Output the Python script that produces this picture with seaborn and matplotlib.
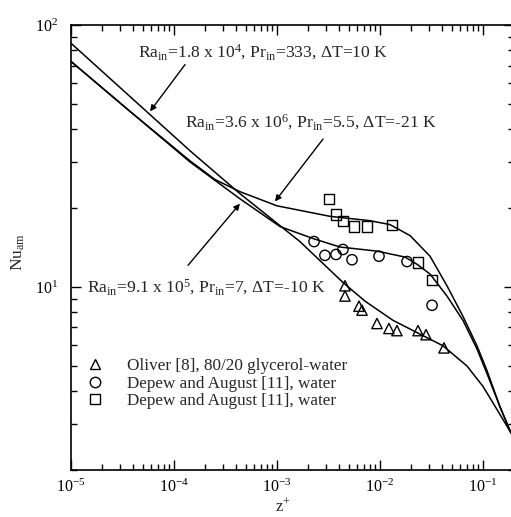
import numpy as np
import pandas as pd
import matplotlib
matplotlib.use("Agg")
import matplotlib.pyplot as plt
import seaborn as sns
from matplotlib.lines import Line2D
from matplotlib.ticker import NullFormatter, LogLocator

# ---- curves ----
# Ra_in=1.8e4, Pr_in=333 (glycerol)
z_glyc = [1.0e-5, 1.43e-4, 4.37e-4, 1.67e-3, 4.37e-3, 7.14e-3, 1.34e-2, 4.09e-2, 6.99e-2, 1.0e-1, 1.37e-1, 1.87e-1]
nu_glyc = [85.2, 33.1, 22.7, 14.9, 10.4, 8.83, 7.45, 5.96, 4.99, 4.17, 3.40, 2.77]
# Ra_in=3.6e6, Pr_in=5.5
z_high = [1.0e-5, 3.74e-5, 1.43e-4, 2.50e-4, 4.37e-4, 1.0e-3, 3.27e-3, 8.0e-3, 1.25e-2, 1.96e-2, 3.06e-2, 4.47e-2, 6.39e-2, 8.74e-2, 1.09e-1, 1.46e-1, 1.87e-1]
nu_high = [72.6, 46.8, 30.3, 25.7, 23.1, 20.4, 18.6, 17.9, 17.3, 15.7, 13.1, 10.1, 7.72, 5.96, 4.81, 3.49, 2.77]
# Ra_in=9.1e5, Pr_in=7
z_mid = [1.0e-5, 3.74e-5, 1.43e-4, 4.37e-4, 1.07e-3, 2.24e-3, 4.09e-3, 9.35e-3, 1.75e-2, 2.29e-2, 3.06e-2, 4.47e-2, 6.39e-2, 8.74e-2, 1.09e-1, 1.46e-1, 1.87e-1]
nu_mid = [72.6, 46.8, 30.0, 21.7, 17.0, 15.3, 14.2, 13.7, 13.0, 12.2, 11.2, 9.23, 7.45, 5.80, 4.68, 3.49, 2.77]

# ---- experimental points ----
z_tri = [4.57e-3, 4.57e-3, 6.25e-3, 6.69e-3, 9.35e-3, 1.22e-2, 1.46e-2, 2.34e-2, 2.80e-2, 4.18e-2]
nu_tri = [10.1, 9.23, 8.44, 8.15, 7.25, 6.94, 6.81, 6.81, 6.57, 5.85]
z_cir = [2.29e-3, 2.92e-3, 3.74e-3, 4.37e-3, 5.35e-3, 9.78e-3, 1.83e-2, 3.20e-2]
nu_cir = [14.9, 13.2, 13.3, 13.9, 12.7, 13.1, 12.5, 8.51]
z_sq = [3.20e-3, 3.74e-3, 4.37e-3, 5.59e-3, 7.48e-3, 1.31e-2, 2.34e-2, 3.20e-2]
nu_sq = [21.7, 18.9, 17.9, 17.0, 17.0, 17.2, 12.4, 10.6]

legend_labels = ["Oliver [8], 80/20 glycerol-water",
                 "Depew and August [11], water",
                 "Depew and August [11], water"]

label_glyc = r"Ra$_{\mathrm{in}}$=1.8 x 10$^{4}$, Pr$_{\mathrm{in}}$=333, ΔT=10 K"
label_high = r"Ra$_{\mathrm{in}}$=3.6 x 10$^{6}$, Pr$_{\mathrm{in}}$=5.5, ΔT=-21 K"
label_mid = r"Ra$_{\mathrm{in}}$=9.1 x 10$^{5}$, Pr$_{\mathrm{in}}$=7, ΔT=-10 K"

sns.set_theme(style="ticks")
plt.rcParams['font.family'] = ['Liberation Serif', 'DejaVu Serif']
plt.rcParams['mathtext.fontset'] = 'custom'
plt.rcParams['mathtext.rm'] = 'Liberation Serif'
plt.rcParams['mathtext.it'] = 'Liberation Serif:italic'
plt.rcParams['mathtext.bf'] = 'Liberation Serif:bold'

fig = plt.figure(figsize=(5.11, 5.17), dpi=100)
ax = fig.add_axes([71/511, 47/517, 443/511, 445/517])

for zz, nn in [(z_glyc, nu_glyc), (z_high, nu_high), (z_mid, nu_mid)]:
    sns.lineplot(x=zz, y=nn, sort=False, estimator=None, color='black', lw=1.1, ax=ax)

for zz, nn, mk in [(z_tri, nu_tri, '^'), (z_cir, nu_cir, 'o'), (z_sq, nu_sq, 's')]:
    sns.scatterplot(x=zz, y=nn, marker=mk, s=55, ax=ax, zorder=3)
    coll = ax.collections[-1]
    coll.set_facecolor('none')
    coll.set_edgecolor('black')
    coll.set_linewidth(1.0)

ax.set_xscale('log')
ax.set_yscale('log')
ax.set_xlim(1e-5, 0.2)
ax.set_ylim(2, 100)

ax.xaxis.set_major_locator(LogLocator(base=10, numticks=10))
ax.xaxis.set_minor_locator(LogLocator(base=10, subs=np.arange(2, 10), numticks=20))
ax.yaxis.set_minor_locator(LogLocator(base=10, subs=np.arange(2, 10), numticks=20))
ax.xaxis.set_minor_formatter(NullFormatter())
ax.yaxis.set_minor_formatter(NullFormatter())

ax.tick_params(which='both', direction='in', top=True, right=True, width=1.0, colors='black', labelsize=11.5)
ax.tick_params(which='major', length=7)
ax.tick_params(which='minor', length=4)
ax.tick_params(axis='x', which='major', pad=6)
ax.tick_params(axis='y', which='major', pad=9)
for sp in ax.spines.values():
    sp.set_linewidth(1.2)
    sp.set_color('black')

ax.set_xlabel(r"z$^{+}$", fontsize=12)
ax.set_ylabel(r"Nu$_{\mathrm{am}}$", fontsize=12.5)
ax.xaxis.set_label_coords(0.479, -0.082)
ax.xaxis.label.set_va('center')
ax.yaxis.set_label_coords(-0.12, 0.49)
ax.yaxis.label.set_va('center')

# annotations
txt_kw = dict(fontsize=12.6, ha='left', va='baseline', transform=ax.transAxes)
ax.text(0.152, 0.928, label_glyc, **txt_kw)
ax.text(0.257, 0.771, label_high, **txt_kw)
ax.text(0.036, 0.400, label_mid, **txt_kw)

arrow_kw = dict(arrowstyle='-|>', color='black', lw=1.0, mutation_scale=9, shrinkA=0, shrinkB=0)
ax.annotate("", xy=(5.85e-5, 46.8), xytext=(1.28e-4, 70.6), arrowprops=arrow_kw)
ax.annotate("", xy=(9.56e-4, 21.2), xytext=(2.80e-3, 36.7), arrowprops=arrow_kw)
ax.annotate("", xy=(4.37e-4, 20.8), xytext=(1.37e-4, 12.1), arrowprops=arrow_kw)

handles = [Line2D([], [], marker=m, ls='none', mfc='none', mec='black', ms=7.5, mew=1.0)
           for m in ['^', 'o', 's']]
ax.legend(handles, legend_labels, loc='upper left', bbox_to_anchor=(0.037, 0.251),
          frameon=False, fontsize=12.3, handlelength=0.9, handletextpad=1.42,
          borderpad=0, borderaxespad=0, labelspacing=0.08)

fig.savefig("out.png", dpi=100, facecolor='white')
